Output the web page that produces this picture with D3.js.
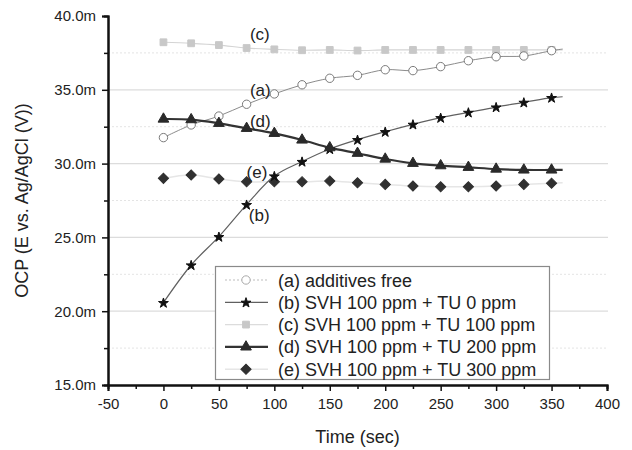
<!DOCTYPE html>
<html>
<head>
<meta charset="utf-8">
<script src="https://cdn.jsdelivr.net/npm/d3@7"></script>
<style>
  html, body { margin: 0; padding: 0; background: #fff; }
  svg { display: block; font-family: "Liberation Sans", Arial, sans-serif; }
</style>
</head>
<body>
<svg id="chart" width="632" height="450"></svg>
<script>
// ---- data ----
const times = [0, 25, 50, 75, 100, 125, 150, 175, 200, 225, 250, 275, 300, 325, 350];
const seriesA = [31.76, 32.62, 33.22, 34.02, 34.72, 35.34, 35.78, 35.98, 36.36, 36.30, 36.57, 36.97, 37.24, 37.29, 37.65];
const seriesB = [20.58, 23.13, 25.05, 27.22, 29.16, 30.14, 30.99, 31.62, 32.16, 32.66, 33.11, 33.47, 33.83, 34.15, 34.47];
const seriesC = [38.22, 38.15, 38.03, 37.83, 37.74, 37.68, 37.70, 37.66, 37.70, 37.70, 37.70, 37.70, 37.70, 37.70, 37.70];
const seriesD = [33.02, 32.98, 32.73, 32.39, 32.05, 31.60, 31.08, 30.70, 30.31, 30.02, 29.86, 29.75, 29.63, 29.57, 29.57];
const seriesE = [29.00, 29.23, 28.96, 28.77, 28.77, 28.77, 28.82, 28.70, 28.59, 28.48, 28.43, 28.43, 28.48, 28.59, 28.67];
// fitted-curve end (the smooth fit runs slightly past the last sample)
const fitEndTime = 360;
const fitEndValues = [37.76, 34.53, 37.70, 29.57, 28.70];
const seriesLabels = ["(a) additives free", "(b) SVH 100 ppm + TU 0 ppm", "(c) SVH 100 ppm + TU 100 ppm",
                      "(d) SVH 100 ppm + TU 200 ppm", "(e) SVH 100 ppm + TU 300 ppm"];
const tags = ["(a)", "(b)", "(c)", "(d)", "(e)"];
const tagAnchors = [[78, 35.0], [77, 26.55], [78, 38.8], [78, 32.9], [75, 29.45]];
const xTicks = [-50, 0, 50, 100, 150, 200, 250, 300, 350, 400];
const xMinor = [-25, 25, 75, 125, 175, 225, 275, 325, 375];
const yTicks = [15, 20, 25, 30, 35, 40];
const yMinor = [17.5, 22.5, 27.5, 32.5, 37.5];

// ---- styles ----
const styles = [
  { line: "#8c8c8c", lw: 1,   sym: "circle",   fill: "#fff",    stroke: "#7a7a7a", legendDash: "2,2", legendLine: "#bdbdbd" },
  { line: "#606060", lw: 1.2, sym: "star",     fill: "#111",    stroke: "#111",    legendDash: null,  legendLine: "#606060" },
  { line: "#d4d4d4", lw: 1.2, sym: "square",   fill: "#c8c8c8", stroke: "#c8c8c8", legendDash: null,  legendLine: "#dcdcdc" },
  { line: "#333333", lw: 2.2, sym: "triangle", fill: "#2a2a2a", stroke: "#2a2a2a", legendDash: null,  legendLine: "#333" },
  { line: "#e6e6e6", lw: 1.5, sym: "diamond",  fill: "#303030", stroke: "#303030", legendDash: null,  legendLine: "#e6e6e6" }
];

const svg = d3.select("#chart");
const x = d3.scaleLinear().domain([-50, 400]).range([108, 607]);
const y = d3.scaleLinear().domain([15, 40]).range([385, 16]);

// grid
const grid = svg.append("g");
grid.selectAll("line.maj").data(yTicks.filter(v => v > 15 && v < 40)).join("line")
  .attr("x1", x(-50)).attr("x2", 608).attr("y1", d => y(d)).attr("y2", d => y(d))
  .attr("stroke", "#dcdcdc").attr("stroke-width", 1.2);
grid.selectAll("line.min").data(yMinor).join("line")
  .attr("x1", x(-50)).attr("x2", 608).attr("y1", d => y(d)).attr("y2", d => y(d))
  .attr("stroke", "#e4e4e4").attr("stroke-width", 1).attr("stroke-dasharray", "2,2");

// series
const all = [seriesA, seriesB, seriesC, seriesD, seriesE];
const line = d3.line().x(d => x(d[0])).y(d => y(d[1])).curve(d3.curveCatmullRom.alpha(0.5));

function symPath(kind, g, cx, cy) {
  if (kind === "circle") {
    g.append("circle").attr("cx", cx).attr("cy", cy).attr("r", 4.2);
  } else if (kind === "star") {
    g.append("path").attr("d", d3.symbol().type(d3.symbolStar).size(30)()).attr("transform", `translate(${cx},${cy + 0.5})`);
  } else if (kind === "square") {
    g.append("path").attr("d", d3.symbol().type(d3.symbolSquare).size(46)()).attr("transform", `translate(${cx},${cy})`);
  } else if (kind === "triangle") {
    g.append("path").attr("d", d3.symbol().type(d3.symbolTriangle).size(50)()).attr("transform", `translate(${cx},${cy})`);
  } else if (kind === "diamond") {
    g.append("path").attr("d", d3.symbol().type(d3.symbolSquare).size(52)()).attr("transform", `translate(${cx},${cy}) rotate(45)`);
  }
}

const drawOrder = [4, 2, 0, 1, 3];
drawOrder.forEach(i => {
  const pts = times.map((t, j) => [t, all[i][j]]);
  pts.push([fitEndTime, fitEndValues[i]]);
  svg.append("path").attr("d", line(pts)).attr("fill", "none")
    .attr("stroke", styles[i].line).attr("stroke-width", styles[i].lw);
});
drawOrder.forEach(i => {
  const g = svg.append("g").attr("fill", styles[i].fill).attr("stroke", styles[i].stroke).attr("stroke-width", 1);
  times.forEach((t, j) => symPath(styles[i].sym, g, x(t), y(all[i][j])));
});

// tags
svg.append("g").selectAll("text").data(tags).join("text")
  .attr("x", (d, i) => x(tagAnchors[i][0]))
  .attr("y", (d, i) => y(tagAnchors[i][1]) + 6)
  .attr("font-size", 17).attr("fill", "#222").text(d => d);

// axes
const fmt = d => d3.format(".1f")(d) + "m";
svg.append("g").attr("transform", `translate(${x(-50)},0)`)
  .call(d3.axisLeft(y).tickValues(yTicks).tickFormat(fmt).tickSize(6).tickPadding(6));
svg.append("g").attr("transform", `translate(${x(-50)},0)`)
  .call(d3.axisLeft(y).tickValues(yMinor).tickFormat("").tickSize(4));
svg.append("g").attr("transform", `translate(0,${y(15)})`)
  .call(d3.axisBottom(x).tickValues(xTicks).tickFormat(d => String(d)).tickSize(6).tickPadding(7));
svg.append("g").attr("transform", `translate(0,${y(15)})`)
  .call(d3.axisBottom(x).tickValues(xMinor).tickFormat("").tickSize(4));
svg.selectAll(".domain").attr("stroke", "#111").attr("stroke-width", 2);
svg.selectAll(".tick line").attr("stroke", "#111").attr("stroke-width", 1.5);
svg.selectAll(".tick text").attr("font-size", 15).attr("fill", "#222")
  .attr("font-family", "'Liberation Sans', Arial, sans-serif");

// axis titles
svg.append("text").attr("x", x(175)).attr("y", 443).attr("text-anchor", "middle")
  .attr("font-size", 18).attr("fill", "#222").text("Time (sec)");
svg.append("text").attr("transform", `translate(28,${y(27.5)})rotate(-90)`).attr("text-anchor", "middle")
  .attr("font-size", 18).attr("fill", "#222").text("OCP (E vs. Ag/AgCl (V))");

// legend
const lg = svg.append("g");
lg.append("rect").attr("x", 215.5).attr("y", 266.5).attr("width", 334).attr("height", 113)
  .attr("fill", "#fff").attr("stroke", "#8a8a8a").attr("stroke-width", 1.2);
seriesLabels.forEach((lab, i) => {
  const cy = 280 + i * 22.3;
  lg.append("line").attr("x1", 225).attr("x2", 268).attr("y1", cy).attr("y2", cy)
    .attr("stroke", styles[i].legendLine).attr("stroke-width", styles[i].lw)
    .attr("stroke-dasharray", styles[i].legendDash);
  const g = lg.append("g").attr("fill", styles[i].fill).attr("stroke", i === 0 ? "#aaa" : styles[i].stroke).attr("stroke-width", 1);
  symPath(styles[i].sym, g, 246, cy);
  lg.append("text").attr("x", 278).attr("y", cy + 6.5).attr("font-size", 18).attr("fill", "#222").text(lab);
});
</script>
</body>
</html>
